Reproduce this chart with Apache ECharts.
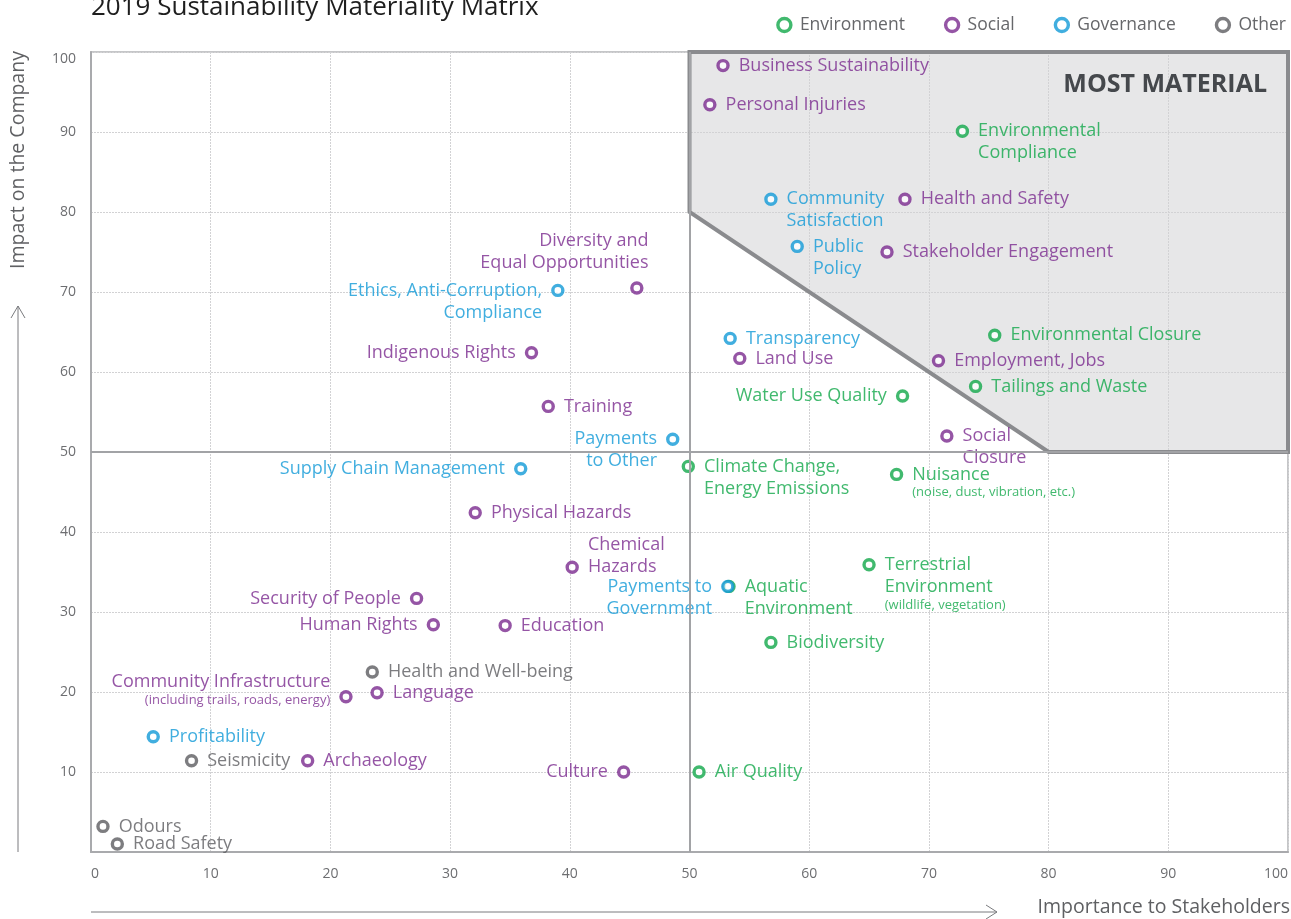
<!DOCTYPE html>
<html>
<head>
<meta charset="utf-8">
<title>2019 Sustainability Materiality Matrix</title>
<script src="https://cdn.jsdelivr.net/npm/echarts@6/dist/echarts.min.js"></script>
<style>
html, body { margin: 0; padding: 0; background: #fff; }
#main { width: 1291px; height: 919px; }
</style>
</head>
<body>
<div id="main"></div>
<script>
// values (x = importance to stakeholders, y = impact on the company)
var envNames = ['Environmental\nCompliance', 'Environmental Closure', 'Tailings and Waste', 'Water Use Quality',
	'Climate Change,\nEnergy Emissions', 'Nuisance', 'Terrestrial\nEnvironment', 'Aquatic\nEnvironment', 'Biodiversity', 'Air Quality'];
var envX = [72.8, 75.5, 73.9, 67.8, 49.9, 67.3, 65.0, 53.3, 56.8, 50.8];
var envY = [90.1, 64.6, 58.2, 57.0, 48.2, 47.2, 35.9, 33.2, 26.2, 10.0];

var socNames = ['Business Sustainability', 'Personal Injuries', 'Health and Safety', 'Stakeholder Engagement',
	'Diversity and\nEqual Opportunities', 'Indigenous Rights', 'Training', 'Land Use', 'Employment, Jobs', 'Social\nClosure',
	'Physical Hazards', 'Chemical\nHazards', 'Security of People', 'Human Rights', 'Education', 'Community Infrastructure',
	'Language', 'Archaeology', 'Culture'];
var socX = [52.8, 51.7, 68.0, 66.5, 45.6, 36.8, 38.2, 54.2, 70.8, 71.5, 32.1, 40.2, 27.2, 28.6, 34.6, 21.3, 23.9, 18.1, 44.5];
var socY = [98.3, 93.4, 81.6, 75.0, 70.5, 62.4, 55.7, 61.7, 61.4, 52.0, 42.4, 35.6, 31.7, 28.4, 28.3, 19.4, 19.9, 11.4, 10.0];

var govNames = ['Community\nSatisfaction', 'Public\nPolicy', 'Ethics, Anti-Corruption,\nCompliance', 'Transparency',
	'Payments\nto Other', 'Supply Chain Management', 'Payments to\nGovernment', 'Profitability'];
var govX = [56.8, 59.0, 39.0, 53.4, 48.6, 35.9, 53.2, 5.2];
var govY = [81.6, 75.7, 70.2, 64.2, 51.6, 47.9, 33.2, 14.4];

var othNames = ['Health and Well-being', 'Seismicity', 'Odours', 'Road Safety'];
var othX = [23.5, 8.4, 1.0, 2.2];
var othY = [22.5, 11.4, 3.2, 1.0];

// small explanatory lines under some topics
var notes = {
	'Nuisance': '(noise, dust, vibration, etc.)',
	'Terrestrial\nEnvironment': '(wildlife, vegetation)',
	'Community Infrastructure': '(including trails, roads, energy)'
};

// "most material" zone outline
var zoneX = [50, 50, 80, 100, 100];
var zoneY = [100, 80, 50, 50, 100];

var colors = { env: '#12a84a', soc: '#7b2b8e', gov: '#119ad7', oth: '#5c5d60' };
var FONT = 'Open Sans';

// label side: r = right, l = left, rb = right on last line, tl = above left, lb = left on last line
var place = {
	'Water Use Quality': 'l', 'Ethics, Anti-Corruption,\nCompliance': 'l', 'Indigenous Rights': 'l',
	'Payments\nto Other': 'l', 'Supply Chain Management': 'l', 'Payments to\nGovernment': 'l',
	'Security of People': 'l', 'Human Rights': 'l', 'Culture': 'l',
	'Community Infrastructure': 'lb', 'Chemical\nHazards': 'rb', 'Diversity and\nEqual Opportunities': 'tl'
};

function labelFor(name, color) {
	var lines = name.split('\n').map(function (l) { return '{m|' + l + '}'; });
	if (notes[name]) lines.push('{s|' + notes[name] + '}');
	var p = place[name] || 'r';
	var lab = {
		show: true,
		formatter: lines.join('\n'),
		rich: {
			m: { fontFamily: FONT, fontSize: 18, lineHeight: 22, color: color },
			s: { fontFamily: FONT, fontSize: 13, lineHeight: 14, color: color }
		}
	};
	if (p == 'r') { lab.position = ['100%', '50%']; lab.align = 'left'; lab.verticalAlign = 'top'; lab.offset = [9, -11]; }
	if (p == 'l') { lab.position = ['0%', '50%']; lab.align = 'right'; lab.verticalAlign = 'top'; lab.offset = [-9, -11]; }
	if (p == 'rb') { lab.position = ['100%', '50%']; lab.align = 'left'; lab.verticalAlign = 'bottom'; lab.offset = [9, 11]; }
	if (p == 'lb') { lab.position = ['0%', '50%']; lab.align = 'right'; lab.verticalAlign = 'bottom'; lab.offset = [-9, 10]; }
	if (p == 'tl') { lab.position = ['100%', '0%']; lab.align = 'right'; lab.verticalAlign = 'bottom'; lab.offset = [5, -7]; }
	return lab;
}

function makeSeries(seriesName, names, xs, ys, color) {
	return {
		type: 'scatter',
		name: seriesName,
		symbol: 'circle',
		symbolSize: 10,
		z: 3,
		itemStyle: { color: '#fff', borderColor: color, borderWidth: 3.4 },
		emphasis: { disabled: true },
		data: names.map(function (n, i) {
			return { name: n, value: [xs[i], ys[i]], label: labelFor(n, color) };
		})
	};
}

function zonePoints(api) {
	return zoneX.map(function (x, i) { return api.coord([x, zoneY[i]]); });
}

var myChart = echarts.init(document.getElementById('main'));

var option = {
	animation: false,
	backgroundColor: '#fff',
	textStyle: { fontFamily: FONT },
	title: {
		text: '2019 Sustainability Materiality Matrix',
		left: 86, top: -10,
		textStyle: { fontFamily: FONT, fontSize: 26, fontWeight: 'normal', color: '#1e1e1e' }
	},
	legend: {
		right: 0, top: 11,
		icon: 'circle',
		itemWidth: 13, itemHeight: 13, itemGap: 39,
		itemStyle: { color: '#fff', borderWidth: 3.4 },
		textStyle: { fontFamily: FONT, fontSize: 17.5, color: '#66676a', padding: [0, 0, 0, 4] },
		data: ['Environment', 'Social', 'Governance', 'Other']
	},
	grid: { left: 91, top: 52, width: 1199, height: 800, show: true, borderColor: '#b3b4b6', borderWidth: 1.5 },
	xAxis: {
		type: 'value', min: 0, max: 100, interval: 10,
		axisLine: { show: true, onZero: false, lineStyle: { color: '#a9aaad', width: 2 } },
		axisTick: { show: false },
		axisLabel: { margin: 15, fontFamily: FONT, fontSize: 14, color: '#6d6e71', alignMinLabel: 'left', alignMaxLabel: 'right' },
		splitLine: { show: true, lineStyle: { color: '#d2d2d4', type: [2, 1], width: 1 } }
	},
	yAxis: {
		type: 'value', min: 0, max: 100, interval: 10,
		axisLine: { show: true, onZero: false, lineStyle: { color: '#a9aaad', width: 2 } },
		axisTick: { show: false },
		axisLabel: { margin: 15, fontFamily: FONT, fontSize: 14, color: '#6d6e71', showMinLabel: false, verticalAlignMaxLabel: 'top' },
		splitLine: { show: true, lineStyle: { color: '#d2d2d4', type: [2, 1], width: 1 } }
	},
	graphic: [
		{ type: 'text', right: 24, top: 72, style: { text: 'MOST MATERIAL', fontFamily: FONT, fontSize: 25, fontWeight: 'bold', fill: '#45484c' }, z: 10 },
		{ type: 'text', x: 18, y: 160, rotation: Math.PI / 2,
			style: { text: 'Impact on the Company', fontFamily: FONT, fontSize: 19.5, fill: '#5f6063', align: 'center', verticalAlign: 'middle' } },
		{ type: 'polyline', shape: { points: [[18, 852], [18, 306]] }, style: { stroke: '#7a7b7e', lineWidth: 1, fill: null } },
		{ type: 'polyline', shape: { points: [[11, 318], [18, 306], [25, 318]] }, style: { stroke: '#7a7b7e', lineWidth: 1, fill: null } },
		{ type: 'polyline', shape: { points: [[91, 912], [997, 912]] }, style: { stroke: '#7a7b7e', lineWidth: 1, fill: null } },
		{ type: 'polyline', shape: { points: [[986, 905], [997, 912], [986, 919]] }, style: { stroke: '#7a7b7e', lineWidth: 1, fill: null } },
		{ type: 'text', right: 1, top: 897,
			style: { text: 'Importance to Stakeholders', fontFamily: FONT, fontSize: 19.5, fill: '#5f6063' } }
	],
	series: [
		{
			type: 'custom', name: 'zone-fill', silent: true, z: -1,
			data: [[zoneX[0], zoneY[0]]],
			renderItem: function (params, api) {
				return { type: 'polygon', shape: { points: zonePoints(api) }, style: { fill: '#e7e7e8', stroke: null } };
			}
		},
		{
			type: 'custom', name: 'zone-line', silent: true, z: 1,
			data: [[zoneX[0], zoneY[0]]],
			renderItem: function (params, api) {
				return { type: 'polygon', shape: { points: zonePoints(api) }, style: { fill: null, stroke: '#8a8b8e', lineWidth: 4, lineJoin: 'miter' } };
			},
			markLine: {
				silent: true, symbol: 'none', label: { show: false },
				lineStyle: { color: '#a2a3a6', width: 2, type: 'solid' },
				data: [{ xAxis: 50 }, { yAxis: 50 }]
			}
		},
		makeSeries('Environment', envNames, envX, envY, colors.env),
		makeSeries('Social', socNames, socX, socY, colors.soc),
		makeSeries('Governance', govNames, govX, govY, colors.gov),
		makeSeries('Other', othNames, othX, othY, colors.oth)
	]
};

myChart.setOption(option);
</script>
</body>
</html>
